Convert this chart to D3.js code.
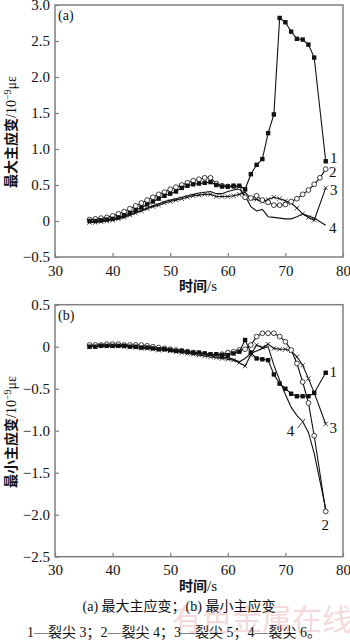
<!DOCTYPE html>
<html>
<head>
<meta charset="utf-8">
<script src="https://cdn.jsdelivr.net/npm/d3@7"></script>
<style>
  body { margin: 0; background: #fff; }
  svg { display: block; }
</style>
</head>
<body>
<svg id="chart"></svg>
<script>
// time points (s)
var times = [36,37,38,39,40,41,42,43,44,45,46,47,48,49,50,51,52,53,54,55,56,57,
             58,59,60,61,62,63,64,65,66,67,68,69,70,71,72,73,74,75,76,77];

// (a) max principal strain
var maxTip3 = [0.00,0.00,0.01,0.02,0.03,0.05,0.08,0.11,0.15,0.19,0.23,0.27,0.31,0.35,0.38,0.41,0.46,0.49,0.51,0.52,0.53,0.54,
               0.50,0.48,0.48,0.49,0.49,0.44,0.65,0.78,0.86,1.22,1.48,2.82,2.76,2.63,2.53,2.52,2.45,2.27,null,0.83];
var maxTip4 = [0.02,0.03,0.04,0.05,0.07,0.10,0.13,0.17,0.21,0.25,0.29,0.33,0.37,0.40,0.44,0.47,0.50,0.53,0.56,0.58,0.60,0.60,
               0.52,0.49,0.48,0.48,0.47,0.33,0.32,0.35,0.29,0.26,0.22,0.22,0.23,0.27,0.31,0.37,0.43,0.51,0.60,0.72];
var maxTip5 = [-0.02,-0.02,-0.01,0.00,0.01,0.03,0.05,0.08,0.11,0.14,0.17,0.20,0.22,0.25,0.27,0.29,0.31,0.33,0.35,0.36,0.37,0.37,
               0.34,0.34,0.34,0.35,0.37,0.40,0.31,0.30,0.27,0.30,0.33,0.31,0.28,0.25,0.18,0.10,0.05,0.01,null,0.46];
var maxTip6 = [-0.01,-0.01,0.00,0.01,0.02,0.04,0.06,0.09,0.12,0.15,0.18,0.21,0.24,0.27,0.29,0.31,0.33,0.35,0.37,0.39,0.40,0.41,
               0.38,0.38,0.41,0.43,0.45,0.35,0.20,0.14,0.16,0.06,0.05,0.04,0.03,0.03,0.06,0.10,0.07,0.04,-0.01,-0.06];

// (b) min principal strain
var minTip3 = [0.00,0.00,0.01,0.01,0.01,0.01,0.01,0.00,0.00,-0.01,-0.01,-0.02,-0.03,-0.03,-0.04,-0.05,-0.05,-0.06,-0.07,-0.07,-0.08,-0.09,
               -0.09,-0.10,-0.10,-0.08,-0.06,0.08,-0.07,-0.14,-0.15,-0.16,-0.33,-0.44,-0.50,-0.56,-0.59,-0.59,-0.59,-0.55,null,-0.31];
var minTip4 = [0.02,0.02,0.02,0.03,0.03,0.03,0.02,0.02,0.02,0.02,0.01,0.00,-0.01,-0.02,-0.03,-0.04,-0.05,-0.06,-0.07,-0.08,-0.09,-0.10,
               -0.10,-0.09,-0.07,-0.06,-0.04,-0.03,0.02,0.12,0.16,0.16,0.16,0.12,0.06,-0.04,-0.20,-0.42,-0.67,-1.06,null,-1.96];
var minTip5 = [0.00,0.01,0.01,0.01,0.01,0.01,0.00,0.00,-0.01,-0.02,-0.02,-0.03,-0.04,-0.04,-0.05,-0.06,-0.07,-0.08,-0.09,-0.10,-0.11,-0.12,
               -0.13,-0.14,-0.15,-0.16,-0.19,-0.23,-0.10,0.02,-0.01,0.03,-0.02,-0.03,-0.03,-0.05,-0.12,-0.22,-0.38,-0.55,null,-0.92];
var minTip6 = [0.00,0.01,0.01,0.01,0.01,0.01,0.01,0.00,0.00,-0.01,-0.01,-0.02,-0.03,-0.04,-0.05,-0.05,-0.06,-0.07,-0.08,-0.09,-0.10,-0.11,
               -0.12,-0.13,-0.13,-0.15,-0.18,-0.14,-0.08,-0.05,-0.02,0.00,-0.22,-0.40,-0.57,-0.72,-0.82,-0.89,-1.02,-1.27,-1.60,-1.93];

var xTicks = [30,40,50,60,70,80];
var yTicksA = [-0.5,0,0.5,1.0,1.5,2.0,2.5,3.0];
var yTicksB = [-2.5,-2.0,-1.5,-1.0,-0.5,0,0.5];

var width = 350, height = 644;
var svg = d3.select("#chart").attr("width", width).attr("height", height);

var serif = "'Liberation Serif', 'DejaVu Serif', serif";
var cjk = "'Noto Sans CJK SC', sans-serif";

// watermark
svg.append("text")
    .attr("x", 262).attr("y", 630)
    .attr("text-anchor", "middle")
    .style("font-family", cjk).style("font-size", "30px")
    .attr("fill", "#f4dada")
    .text("有色金属在线");

var xScale = d3.scaleLinear().domain([30, 80]).range([55, 343]);

function fmt(d) {
    if (d === 0) return "0";
    return d3.format(".1f")(d);
}

function drawPanel(opt) {
    var y = d3.scaleLinear().domain(opt.yDomain).range([opt.bottom, opt.top]);
    var g = svg.append("g");

    // frame
    g.append("rect")
        .attr("x", xScale.range()[0]).attr("y", opt.top)
        .attr("width", xScale.range()[1] - xScale.range()[0])
        .attr("height", opt.bottom - opt.top)
        .attr("fill", "none").attr("stroke", "#808080").attr("stroke-width", 1.5);

    var xAxis = g.append("g")
        .attr("transform", "translate(0," + opt.bottom + ")")
        .call(d3.axisBottom(xScale).tickValues(xTicks).tickSizeInner(-4).tickSizeOuter(0).tickPadding(8));
    var yAxis = g.append("g")
        .attr("transform", "translate(" + xScale.range()[0] + ",0)")
        .call(d3.axisLeft(y).tickValues(opt.yTicks).tickFormat(fmt).tickSizeInner(-4).tickSizeOuter(0).tickPadding(5));
    [xAxis, yAxis].forEach(function(a) {
        a.select(".domain").remove();
        a.selectAll("line").attr("stroke", "#808080").attr("stroke-width", 1.2);
        a.selectAll("text").style("font-family", serif).style("font-size", "15px").attr("fill", "#111");
    });

    // x title
    var xt = g.append("text")
        .attr("x", 198).attr("y", opt.bottom + 34)
        .attr("text-anchor", "middle")
        .style("font-size", "14px").attr("fill", "#111");
    xt.append("tspan").style("font-family", cjk).style("font-weight", "bold").text("时间");
    xt.append("tspan").style("font-family", serif).style("font-size", "15px").text("/s");

    // y title
    var yt = g.append("text")
        .attr("transform", "translate(16," + opt.yTitleY + ") rotate(-90)")
        .attr("text-anchor", "middle")
        .style("font-size", "14px").attr("fill", "#111");
    yt.append("tspan").style("font-family", cjk).style("font-weight", "bold").text(opt.yTitle);
    yt.append("tspan").style("font-family", serif).style("font-size", "14px").text("/10");
    yt.append("tspan").style("font-family", serif).style("font-size", "10px").attr("dy", -5).text("−9");
    yt.append("tspan").style("font-family", serif).style("font-size", "14px").attr("dy", 5).text("με");

    // panel tag
    g.append("text")
        .attr("x", 58).attr("y", opt.top + 15)
        .style("font-family", serif).style("font-size", "14px").attr("fill", "#111")
        .text(opt.tag);

    var line = d3.line()
        .x(function(d) { return xScale(d.t); })
        .y(function(d) { return y(d.v); });

    opt.series.forEach(function(s) {
        var pts = times.map(function(t, i) { return { t: t, v: s.values[i] }; })
            .filter(function(d) { return d.v !== null; });
        g.append("path")
            .datum(pts)
            .attr("fill", "none").attr("stroke", "#111").attr("stroke-width", 1.1)
            .attr("d", line);
        var mk = g.append("g");
        pts.forEach(function(d) {
            var cx = xScale(d.t), cy = y(d.v);
            if (s.marker === "square") {
                mk.append("rect").attr("x", cx - 2.2).attr("y", cy - 2.2)
                    .attr("width", 4.4).attr("height", 4.4).attr("fill", "#111");
            } else if (s.marker === "circle") {
                mk.append("circle").attr("cx", cx).attr("cy", cy).attr("r", 2.4)
                    .attr("fill", "#fff").attr("stroke", "#111").attr("stroke-width", 0.8);
            } else if (s.marker === "cross") {
                mk.append("path")
                    .attr("d", "M" + (cx - 2.2) + "," + (cy - 2.2) + "L" + (cx + 2.2) + "," + (cy + 2.2) +
                               "M" + (cx - 2.2) + "," + (cy + 2.2) + "L" + (cx + 2.2) + "," + (cy - 2.2))
                    .attr("stroke", "#111").attr("stroke-width", 0.8);
            }
        });
    });

    // series number labels
    opt.labels.forEach(function(l) {
        if (l.leader) {
            g.append("line")
                .attr("x1", xScale(l.leader[0])).attr("y1", y(l.leader[1]))
                .attr("x2", xScale(l.leader[2])).attr("y2", y(l.leader[3]))
                .attr("stroke", "#111").attr("stroke-width", 0.8);
        }
        g.append("text")
            .attr("x", xScale(l.t)).attr("y", y(l.v))
            .attr("text-anchor", "middle").attr("dy", "0.35em")
            .style("font-family", serif).style("font-size", "15px").attr("fill", "#111")
            .text(l.text);
    });
}

drawPanel({
    top: 5, bottom: 257, yDomain: [-0.5, 3.0], yTicks: yTicksA,
    tag: "(a)", yTitle: "最大主应变", yTitleY: 132,
    series: [
        { values: maxTip6, marker: "none" },
        { values: maxTip5, marker: "cross" },
        { values: maxTip4, marker: "circle" },
        { values: maxTip3, marker: "square" }
    ],
    labels: [
        { text: "1", t: 78.4, v: 0.88 },
        { text: "2", t: 78.2, v: 0.68 },
        { text: "3", t: 78.4, v: 0.44 },
        { text: "4", t: 78.2, v: -0.09 }
    ]
});

drawPanel({
    top: 304.7, bottom: 556.7, yDomain: [-2.5, 0.5], yTicks: yTicksB,
    tag: "(b)", yTitle: "最小主应变", yTitleY: 432,
    series: [
        { values: minTip6, marker: "none" },
        { values: minTip5, marker: "cross" },
        { values: minTip4, marker: "circle" },
        { values: minTip3, marker: "square" }
    ],
    labels: [
        { text: "1", t: 78.3, v: -0.30 },
        { text: "3", t: 78.3, v: -0.96 },
        { text: "4", t: 70.9, v: -1.00, leader: [72.1, -0.97, 73.4, -0.86] },
        { text: "2", t: 76.9, v: -2.12 }
    ]
});

// captions
svg.append("text")
    .attr("x", 179).attr("y", 611)
    .attr("text-anchor", "middle")
    .style("font-size", "14px").attr("fill", "#111")
    .call(function(t) {
        t.append("tspan").style("font-family", serif).text("(a)  ");
        t.append("tspan").style("font-family", cjk).text("最大主应变；");
        t.append("tspan").style("font-family", serif).text("(b)  ");
        t.append("tspan").style("font-family", cjk).text("最小主应变");
    });

svg.append("text")
    .attr("x", 174).attr("y", 637)
    .attr("text-anchor", "middle")
    .style("font-size", "14px").attr("fill", "#111")
    .call(function(t) {
        var parts = [["1—", serif], ["裂尖", cjk], [" 3", serif], ["；", cjk],
                     ["2—", serif], ["裂尖", cjk], [" 4", serif], ["；", cjk],
                     ["3—", serif], ["裂尖", cjk], [" 5", serif], ["；", cjk],
                     ["4—", serif], ["裂尖", cjk], [" 6", serif], ["。", cjk]];
        parts.forEach(function(p) {
            t.append("tspan").style("font-family", p[1]).text(p[0]);
        });
    });
</script>
</body>
</html>
